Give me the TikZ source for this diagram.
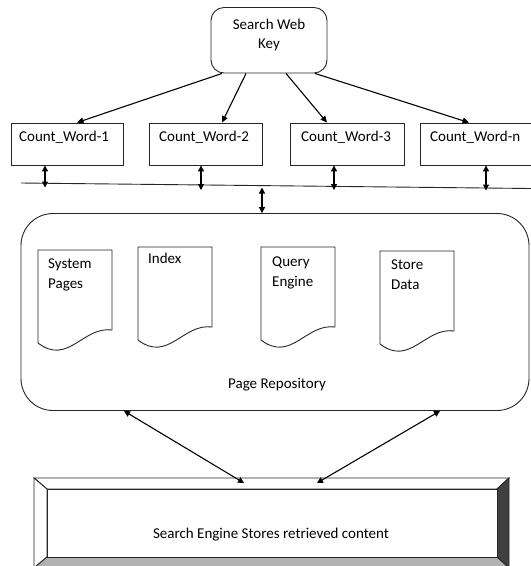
\documentclass[tikz,border=0pt]{standalone}
\usepackage{fontspec}
\setmainfont{Carlito}
\usetikzlibrary{arrows.meta,calc}
\begin{document}
\begin{tikzpicture}[x=1pt,y=-1pt,
  every node/.style={font=\fontsize{15}{20}\selectfont, inner sep=0pt},
  ln/.style={draw=black!85, line width=0.9pt},
  cbox/.style={ln, rectangle, minimum width=#1, minimum height=42pt},
  arr/.style={line width=1.1pt, -{Triangle[length=6.5pt,width=6pt]}},
  dbl/.style={line width=1.1pt, {Triangle[length=6pt,width=6pt]}-{Triangle[length=6pt,width=6pt]}},
  lbl/.style={anchor=base west, align=left}
]
\clip (0,0) rectangle (531,566);
\fill[white] (0,0) rectangle (531,566);

% top box
\node[ln, rounded corners=13pt, minimum width=116pt, minimum height=65.5pt] (sw) at (269,40.25) {};
\node[anchor=base] (swt1) at (269,29) {Search Web};
\node[anchor=base] (swt2) at (269,48.5) {Key};

% count boxes
\node[cbox=112pt] (b1) at (67,144) {};
\node[cbox=113pt] (b2) at (205.5,144) {};
\node[cbox=114pt] (b3) at (347,144) {};
\node[cbox=112pt] (b4) at (476,144) {};
\node[lbl] (t1) at (19,141) {Count\_Word-1};
\node[lbl] (t2) at (159,141) {Count\_Word-2};
\node[lbl] (t3) at (301,141) {Count\_Word-3};
\node[lbl] (t4) at (430,141) {Count\_Word-n};

% arrows from search box
\draw[arr] ([xshift=-47pt]sw.south) -- ([xshift=10pt]b1.north);
\draw[arr] ([xshift=-23pt]sw.south) -- ([xshift=16.5pt]b2.north);
\draw[arr] ([xshift=17pt]sw.south) -- ([xshift=-20pt]b3.north);
\draw[arr] ([xshift=46pt]sw.south) -- ([xshift=-7pt]b4.north);

% bus
\coordinate (busL) at (21,183);
\coordinate (busR) at (531,188.5);
\draw[ln] (busL) -- (busR);
\coordinate (d1) at (45,187.5);
\coordinate (d2) at (201,190);
\coordinate (d3) at (334,190);
\coordinate (d4) at (486,190.5);
\draw[dbl] (b1.south -| d1) -- (d1);
\draw[dbl] (b2.south -| d2) -- (d2);
\draw[dbl] (b3.south -| d3) -- (d3);
\draw[dbl] (b4.south -| d4) -- (d4);

% repository
\node[ln, rounded corners=32pt, minimum width=508pt, minimum height=197pt] (repo) at (275,312) {};
\coordinate (cu) at (262,187.5);
\draw[dbl] (cu) -- (cu |- repo.north);
\node[anchor=base] (rt) at (277,388) {Page Repository};

% documents
\foreach \x/\y/\n in {38/250/1, 138/247/2, 261/247/3, 380/251/4}{
  \draw[ln, fill=white] (\x,\y) -- (\x+74,\y) -- (\x+74,\y+80)
     .. controls (\x+45,\y+76) and (\x+30,\y+116) .. (\x,\y+93) -- cycle;
}
\node[lbl] (dt1) at (48,288) {System\\Pages};
\node[lbl] (dt2) at (148,263) {Index};
\node[lbl] (dt3) at (272,286) {Query\\Engine};
\node[lbl] (dt4) at (391,289) {Store\\Data};

% bottom bevel box
\coordinate (oTL) at (34,478);
\coordinate (oTR) at (509,478);
\coordinate (oBR) at (509,568);
\coordinate (oBL) at (34,568);
\coordinate (iTL) at (47,489);
\coordinate (iTR) at (497,489);
\coordinate (iBR) at (497,557);
\coordinate (iBL) at (47,557);
\filldraw[ln, fill=white] (oTL) -- (oTR) -- (iTR) -- (iTL) -- cycle;
\filldraw[ln, fill=white] (oTL) -- (iTL) -- (iBL) -- (oBL) -- cycle;
\filldraw[ln, fill=black!75] (oTR) -- (oBR) -- (iBR) -- (iTR) -- cycle;
\filldraw[ln, fill=black!30] (iBL) -- (iBR) -- (oBR) -- (oBL) -- cycle;
\node[ln, fill=white, minimum width=450pt, minimum height=68pt] (bb) at (272,523) {};
\node[anchor=base] (bt) at (271,538.5) {Search Engine Stores retrieved content};

% arrows repository <-> bottom box
\coordinate (r1) at (124,410.5);
\coordinate (r2) at (440,410.5);
\coordinate (e1) at (244,483);
\coordinate (e2) at (317,483);
\draw[dbl] (repo.south -| r1) -- (e1);
\draw[dbl] (repo.south -| r2) -- (e2);
\end{tikzpicture}
\end{document}
